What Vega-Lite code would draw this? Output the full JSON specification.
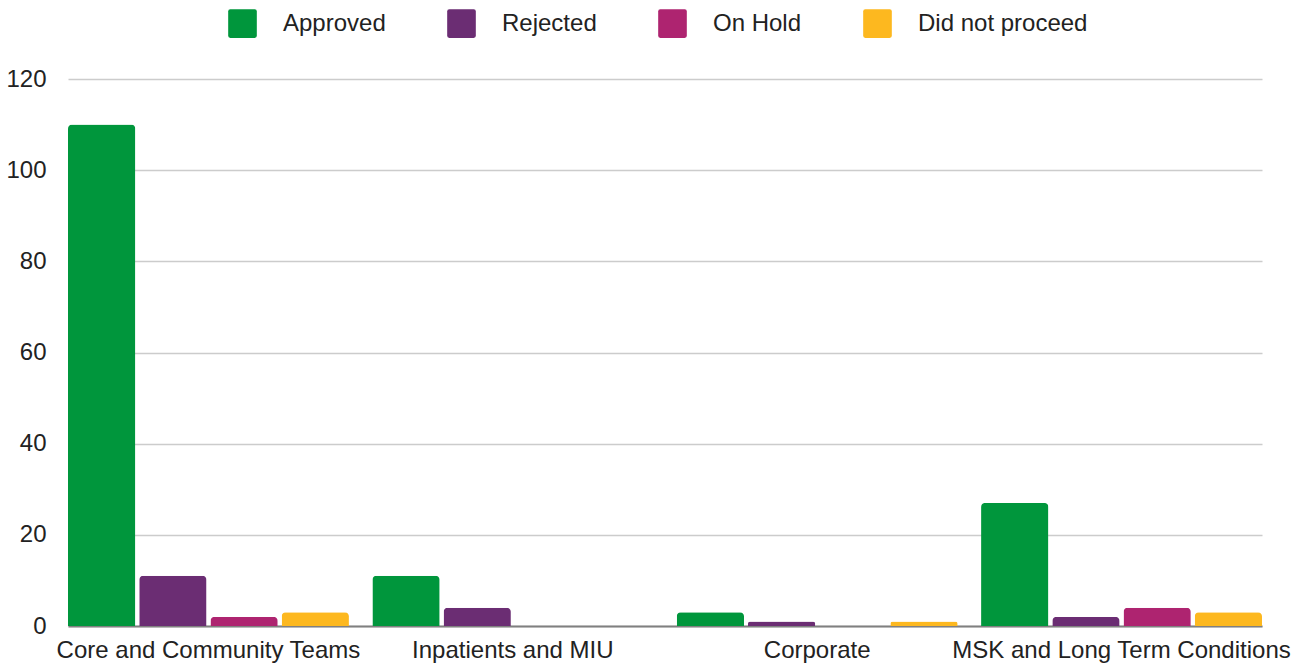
{
  "$schema": "https://vega.github.io/schema/vega-lite/v6.json",
  "width": 1194,
  "height": 547,
  "autosize": "none",
  "padding": {"left": 68, "top": 79, "right": 43, "bottom": 38},
  "background": "white",
  "data": {
    "values": [
      {"group": "Core and Community Teams", "status": "Approved", "count": 110},
      {"group": "Core and Community Teams", "status": "Rejected", "count": 11},
      {"group": "Core and Community Teams", "status": "On Hold", "count": 2},
      {"group": "Core and Community Teams", "status": "Did not proceed", "count": 3},
      {"group": "Inpatients and MIU", "status": "Approved", "count": 11},
      {"group": "Inpatients and MIU", "status": "Rejected", "count": 4},
      {"group": "Inpatients and MIU", "status": "On Hold", "count": 0},
      {"group": "Inpatients and MIU", "status": "Did not proceed", "count": 0},
      {"group": "Corporate", "status": "Approved", "count": 3},
      {"group": "Corporate", "status": "Rejected", "count": 1},
      {"group": "Corporate", "status": "On Hold", "count": 0},
      {"group": "Corporate", "status": "Did not proceed", "count": 1},
      {"group": "MSK and Long Term Conditions", "status": "Approved", "count": 27},
      {"group": "MSK and Long Term Conditions", "status": "Rejected", "count": 2},
      {"group": "MSK and Long Term Conditions", "status": "On Hold", "count": 4},
      {"group": "MSK and Long Term Conditions", "status": "Did not proceed", "count": 3}
    ]
  },
  "mark": {"type": "bar", "cornerRadiusTopLeft": 4, "cornerRadiusTopRight": 4},
  "encoding": {
    "x": {
      "field": "group",
      "type": "nominal",
      "sort": null,
      "scale": {"paddingInner": 0.077, "paddingOuter": 0},
      "axis": {
        "title": null,
        "labelAngle": 0,
        "ticks": false,
        "domainColor": "#808080",
        "domainWidth": 2,
        "labelPadding": 12,
        "labelFont": "Liberation Sans",
        "labelFontSize": 24,
        "labelColor": "#222222",
        "labelLimit": 0,
        "grid": false
      }
    },
    "xOffset": {
      "field": "status",
      "type": "nominal",
      "sort": ["Approved", "Rejected", "On Hold", "Did not proceed"],
      "scale": {"paddingInner": 0.055, "paddingOuter": 0}
    },
    "y": {
      "field": "count",
      "type": "quantitative",
      "scale": {"domain": [0, 120], "nice": false},
      "axis": {
        "title": null,
        "values": [0, 20, 40, 60, 80, 100, 120],
        "ticks": false,
        "domain": false,
        "gridColor": "#cccccc",
        "gridWidth": 1.5,
        "labelPadding": 22,
        "labelFont": "Liberation Sans",
        "labelFontSize": 24,
        "labelColor": "#222222"
      }
    },
    "color": {
      "field": "status",
      "type": "nominal",
      "sort": ["Approved", "Rejected", "On Hold", "Did not proceed"],
      "scale": {
        "domain": ["Approved", "Rejected", "On Hold", "Did not proceed"],
        "range": ["#00963c", "#6b2d73", "#ae2470", "#fdb81f"]
      },
      "legend": {
        "title": null,
        "orient": "none",
        "direction": "horizontal",
        "legendX": 160,
        "legendY": -70,
        "symbolType": "M-0.85,-1H0.85Q1,-1 1,-0.85V0.85Q1,1 0.85,1H-0.85Q-1,1 -1,0.85V-0.85Q-1,-1 -0.85,-1Z",
        "symbolSize": 820,
        "symbolStrokeWidth": 0,
        "symbolOpacity": 1,
        "labelOffset": 26,
        "columnPadding": 61,
        "labelFont": "Liberation Sans",
        "labelFontSize": 24,
        "labelColor": "#222222",
        "labelLimit": 0
      }
    }
  },
  "config": {"view": {"stroke": null}}
}
